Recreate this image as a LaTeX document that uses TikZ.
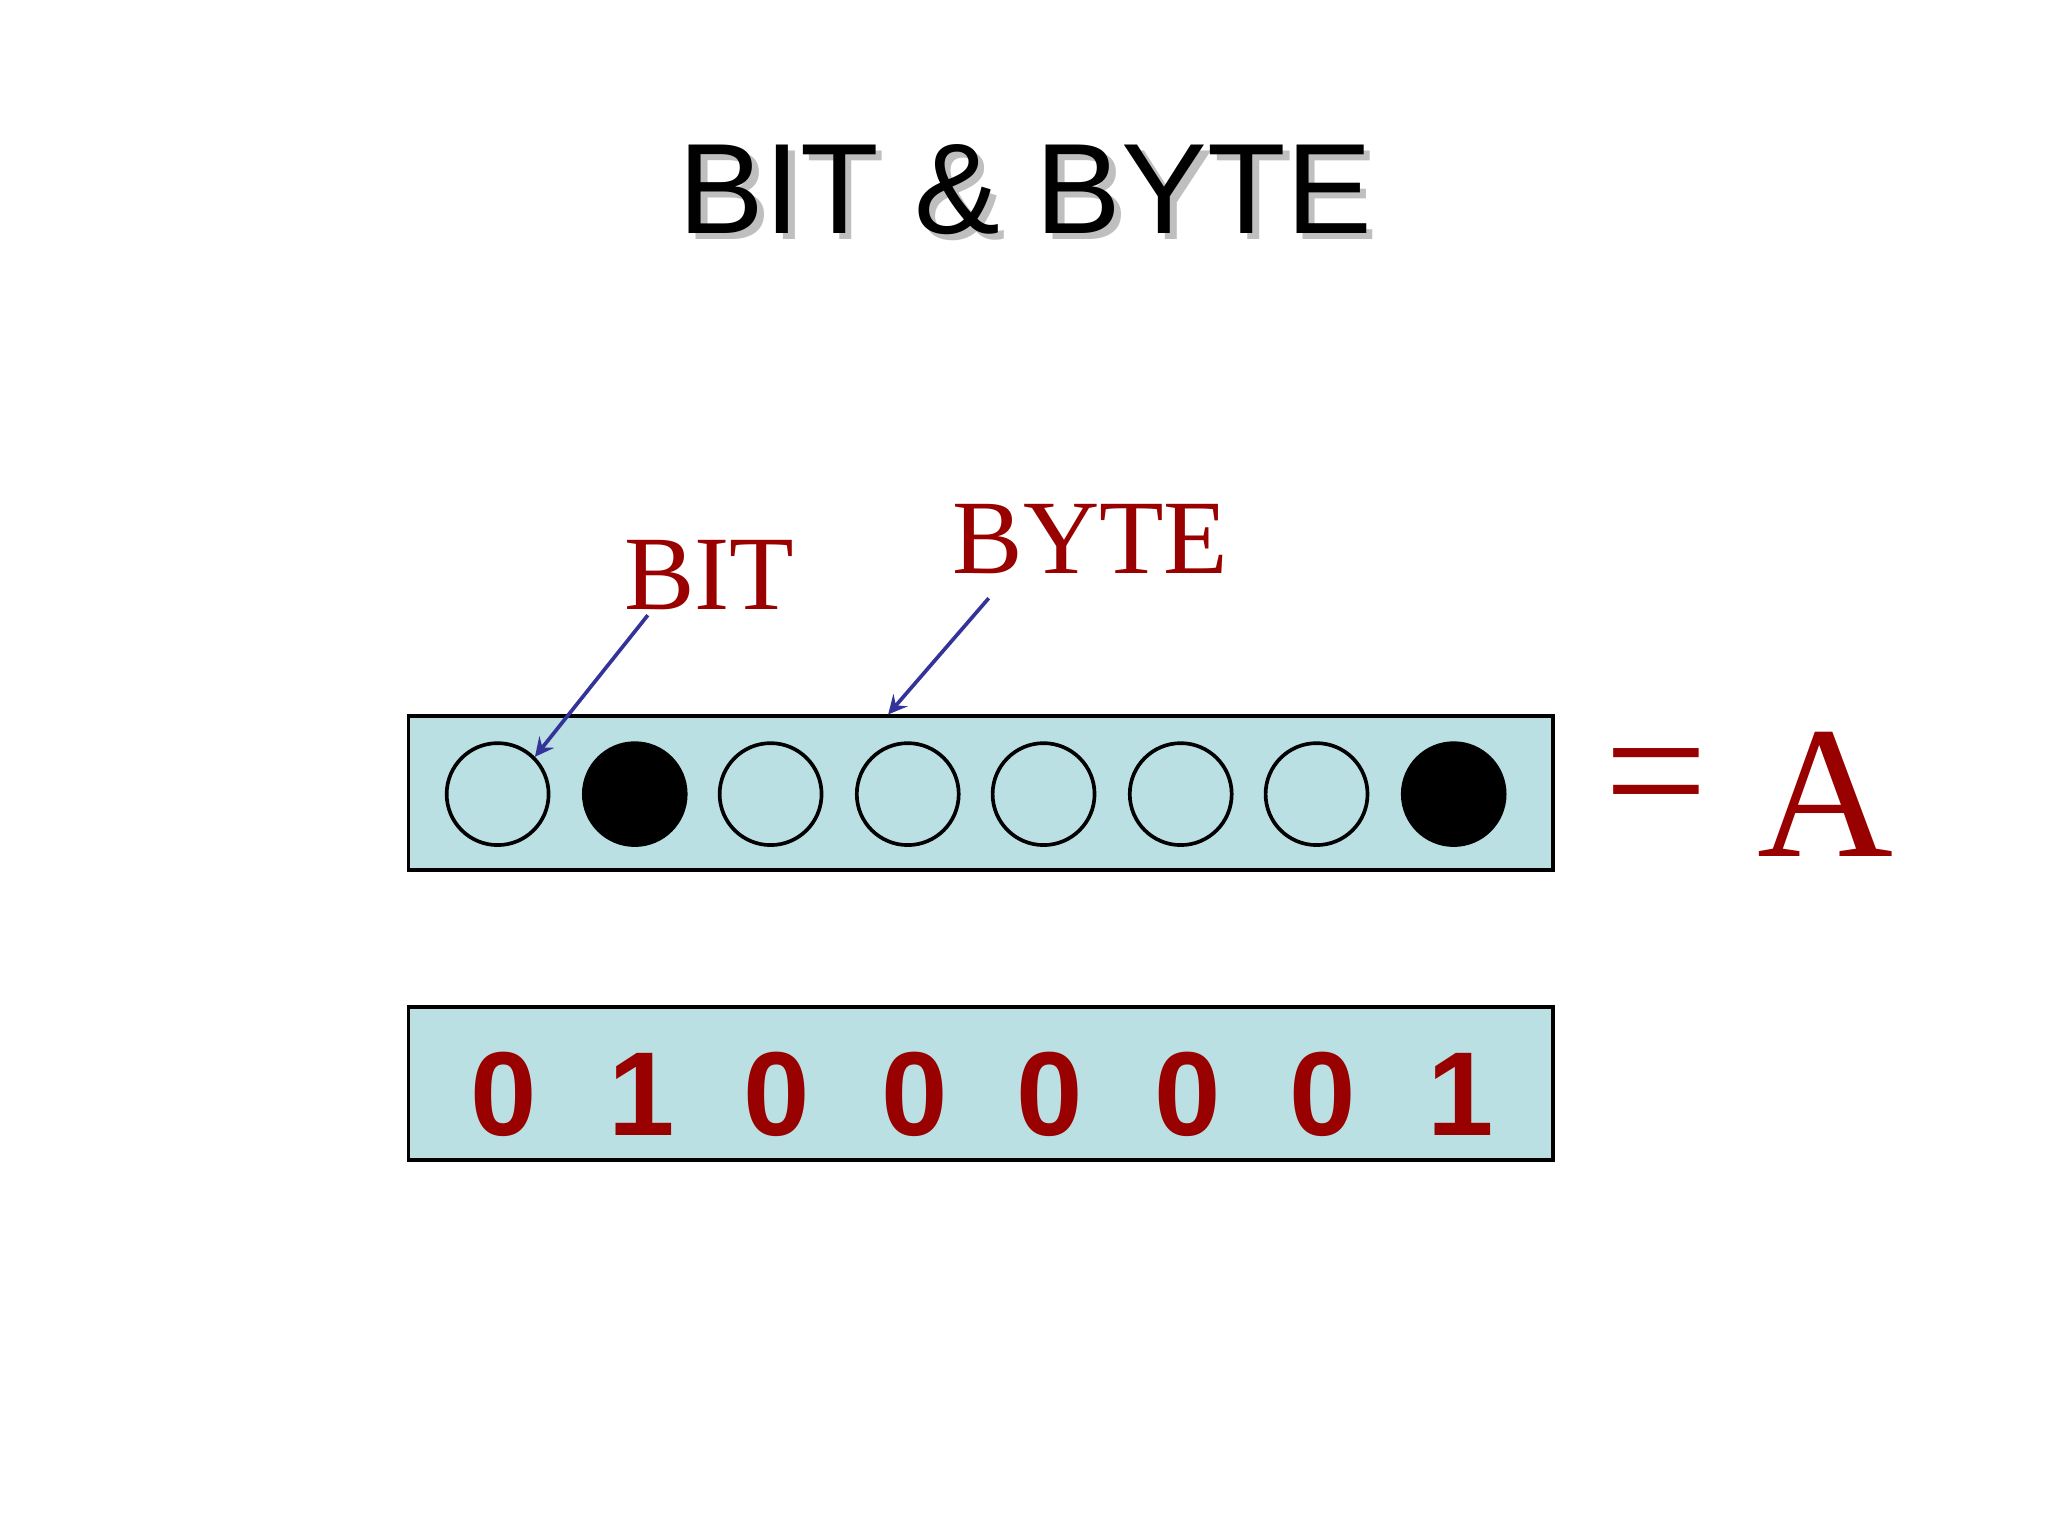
\documentclass[tikz,border=0pt]{standalone}
\usepackage{fontspec}
\setmainfont{Liberation Serif}
\setsansfont{Liberation Sans}
\definecolor{boxbg}{HTML}{BBE0E3}
\definecolor{dred}{HTML}{990000}
\definecolor{ablue}{HTML}{333399}
\begin{document}
\begin{tikzpicture}[x=0.01cm,y=-0.01cm,
  bitc/.style={circle,draw,thick,minimum size=0.78cm,inner sep=0pt,fill=boxbg},
  bitf/.style={circle,draw,thick,minimum size=0.78cm,inner sep=0pt,fill=black},
  lbl/.style={text=dred,font=\fontsize{23}{23}\selectfont},
  dig/.style={text=dred,font=\sffamily\bfseries\fontsize{26}{26}\selectfont},
  arr/.style={ablue,thick,-stealth}]
\useasboundingbox (0,0) rectangle (1568,1176);
\fill[white] (0,0) rectangle (1568,1176);
\node[text=gray!50,font=\sffamily\fontsize{28}{28}\selectfont] at (790,150) {BIT \& BYTE};
\node (title) [font=\sffamily\fontsize{28}{28}\selectfont] at (785,145) {BIT \& BYTE};
\node (byte) [draw,thick,fill=boxbg,minimum width=8.76cm,minimum height=1.18cm,inner sep=0pt] at (751,607) {};
\node (bytes) [draw,thick,fill=boxbg,minimum width=8.76cm,minimum height=1.17cm,inner sep=0pt] at (751,829.5) {};
\foreach \x/\s/\d [count=\i] in {381/bitc/0,486/bitf/1,590/bitc/0,695/bitc/0,799/bitc/0,904/bitc/0,1008/bitc/0,1113/bitf/1}{
  \node (c\i) [\s] at (\x,608) {};
  \node (d\i) [dig] at (\x+5,838) {\d};
}
\node (bit) [lbl] at (543,440) {BIT};
\node (bytel) [lbl] at (835,413) {BYTE};
\coordinate (bs) at (496,471);
\coordinate (ys) at (757,458);
\coordinate (ye) at (680,547);
\draw[arr] (bs) -- (c1.north east);
\draw[arr] (ys) -- (ye);
\node (eq) [text=dred,font=\fontsize{40}{40}\selectfont] at (1268,605) {=};
\node (A) [text=dred,font=\fontsize{41}{41}\selectfont] at (1398,608) {A};
\end{tikzpicture}
\end{document}
